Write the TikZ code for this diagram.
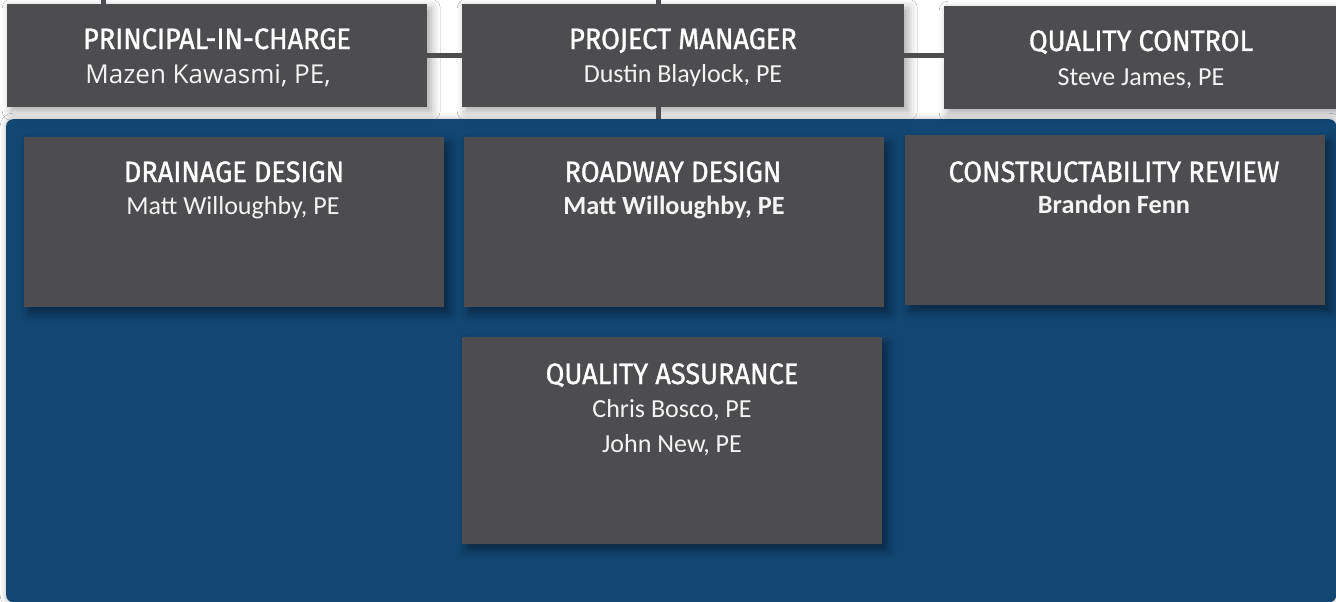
\documentclass[tikz,border=0pt]{standalone}
\usepackage{fontspec}
\setmainfont{Carlito}
\newfontfamily\headfont[FakeStretch=0.92,FakeBold=1.1]{Fira Sans}
\newfontfamily\widefont{Open Sans}
\usetikzlibrary{shadows.blur}
\definecolor{boxgray}{HTML}{4D4D4F}
\definecolor{panelblue}{HTML}{124774}
\definecolor{namewhite}{HTML}{F4F4F4}

\tikzset{
  rolebox/.style={fill=boxgray, draw=none, anchor=north west, inner sep=0pt,
    blur shadow={shadow xshift=4pt, shadow yshift=-4pt, shadow blur radius=9pt, shadow opacity=35}},
  teambox/.style={fill=boxgray, draw=none, anchor=north west, inner sep=0pt,
    minimum width=420pt, minimum height=170pt,
    blur shadow={shadow xshift=5pt, shadow yshift=-6pt, shadow blur radius=9pt, shadow opacity=45}},
  panel/.style={fill=panelblue, draw=none, anchor=north west, inner sep=0pt, rounded corners=7pt,
    blur shadow={shadow xshift=0pt, shadow yshift=0pt, shadow blur radius=6pt, shadow opacity=30}},
  conn/.style={draw=boxgray, line width=5pt},
  roletitle/.style={anchor=base, text=white, inner sep=0pt, font=\headfont\fontsize{29.5}{31}\selectfont},
  rolename/.style={anchor=base, text=namewhite, inner sep=0pt, font=\fontsize{26}{30}\selectfont},
  rolenamebold/.style={rolename, font=\bfseries\fontsize{26.3}{30}\selectfont},
  rolenamewide/.style={rolename, font=\widefont\fontsize{26}{30}\selectfont},
}

\begin{document}
\begin{tikzpicture}[x=1pt,y=-1pt]
\useasboundingbox (0,0) rectangle (1336,602);
\fill[white] (0,0) rectangle (1336,602);

% team panel
\node[panel, minimum width=1330pt, minimum height=483pt] (panel) at (6,119) {};

% leadership row
\node[rolebox, minimum width=420pt, minimum height=103pt] (pic) at (7,4) {};
\node[rolebox, minimum width=442pt, minimum height=103pt] (pm) at (462,4) {};
\node[rolebox, minimum width=400pt, minimum height=103pt] (qc) at (944,6) {};

% reporting lines
\coordinate (pictop) at (103,0);
\coordinate (pmtop) at (658,0);
\draw[conn] (pictop) -- (pictop |- pic.north);
\draw[conn] (pmtop) -- (pmtop |- pm.north);
\draw[conn] (pmtop |- pm.south) -- (pmtop |- panel.north);
\draw[conn] (pic.east) -- (pm.west);
\draw[conn] (pm.east) -- (pm.east -| qc.west);

% team boxes
\node[teambox] (drain) at (24,137) {};
\node[teambox] (road) at (464,137) {};
\node[teambox] (cons) at (905,135) {};
\node[teambox, minimum height=207pt] (qa) at (462,337) {};

% labels
\node[roletitle] (pic-t) at (217,49) {PRINCIPAL-IN-CHARGE};
\node[rolenamewide] (pic-n) at (208,83) {Mazen Kawasmi, PE,};
\node[roletitle] (pm-t) at (683,49) {PROJECT MANAGER};
\node[rolename] (pm-n) at (683,82) {Dustin Blaylock, PE};
\node[roletitle] (qc-t) at (1141,51) {QUALITY CONTROL};
\node[rolename] (qc-n) at (1141,85) {Steve James, PE};

\node[roletitle] (drain-t) at (234,182) {DRAINAGE DESIGN};
\node[rolename] (drain-n) at (233,214) {Matt Willoughby, PE};
\node[roletitle] (road-t) at (673,182) {ROADWAY DESIGN};
\node[rolenamebold] (road-n) at (674,214) {Matt Willoughby, PE};
\node[roletitle] (cons-t) at (1114,182) {CONSTRUCTABILITY REVIEW};
\node[rolenamebold] (cons-n) at (1114,213) {Brandon Fenn};
\node[roletitle] (qa-t) at (672,384) {QUALITY ASSURANCE};
\node[rolename] (qa-n1) at (672,417) {Chris Bosco, PE};
\node[rolename] (qa-n2) at (672,452) {John New, PE};
\end{tikzpicture}
\end{document}
